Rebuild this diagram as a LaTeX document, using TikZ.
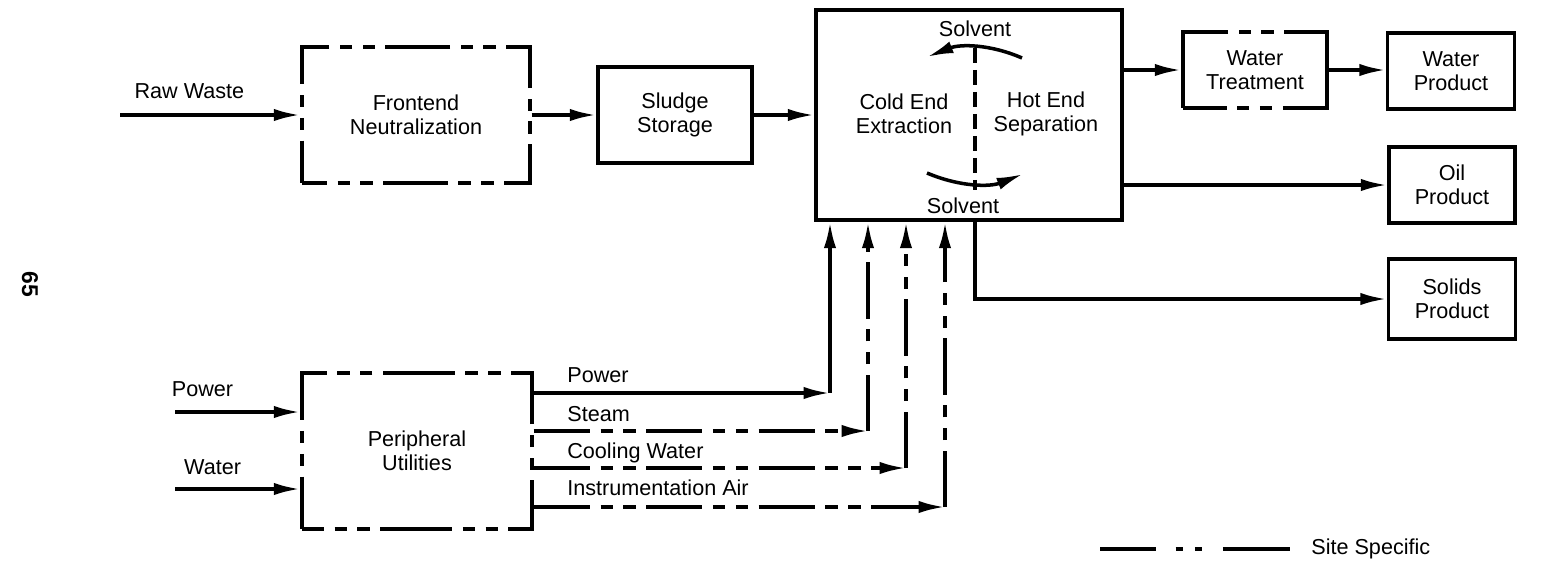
\documentclass[tikz,border=0pt]{standalone}
\usepackage{fontspec}
\setmainfont{Liberation Sans}
\usetikzlibrary{arrows.meta,calc}
\tikzstyle{scatola} = [rectangle, draw, line width=2pt, align=center, inner sep=0pt, font=\fontsize{12.3}{13.5}\selectfont]
\tikzstyle{sito} = [dash pattern=on 32pt off 6pt on 7pt off 6pt on 7pt off 6pt]
\tikzstyle{flusso} = [line width=2pt, -{Latex[length=15pt,width=7pt]}]
\tikzstyle{etichetta} = [inner sep=0pt, align=center, font=\fontsize{12.3}{13.5}\selectfont]

\begin{document}
\begin{tikzpicture}[x=0.02cm, y=-0.02cm]
\useasboundingbox (0,0) rectangle (1559,579);

% main line
\node (fn) [scatola, minimum width=4.56cm, minimum height=2.72cm, dash pattern=on 36.8pt off 6pt on 7pt off 6pt on 7pt off 6pt, dash phase=22.6pt] at (416,115) {Frontend\\Neutralization};
\node (ss) [scatola, minimum width=3.08cm, minimum height=1.92cm] at (675,115) {Sludge\\Storage};
\node (ce) [scatola, minimum width=6.12cm, minimum height=4.2cm] at (969,115) {};

\node (cold) [etichetta] at (904,114) {Cold End\\Extraction};
\node (hot) [etichetta] at (1046,114) {Hot End\\Separation};
\node (sv1) [etichetta] at (975,29) {Solvent};
\node (sv2) [etichetta] at (963,206) {Solvent};

\coordinate (dtop) at (975,48);
\coordinate (dbot) at (975,190);
\draw[line width=2pt, dash pattern=on 8.5pt off 4pt] (dtop) -- (dbot);

\coordinate (a1) at (1022,58);
\coordinate (a2) at (927,57);
\draw[flusso] (a1) .. controls (990,44) and (960,44) .. (a2);
\coordinate (b1) at (927,173);
\coordinate (b2) at (1023,174);
\draw[flusso] (b1) .. controls (960,187) and (990,187) .. (b2);

% products
\node (wt) [scatola, minimum width=2.88cm, minimum height=1.52cm, dash pattern=on 92.7pt off 6pt on 7pt off 6pt on 7pt off 6pt, dash phase=67.9pt] at (1255,70) {Water\\Treatment};
\node (wp) [scatola, minimum width=2.54cm, minimum height=1.52cm] at (1451,71) {Water\\Product};
\node (op) [scatola, minimum width=2.52cm, minimum height=1.52cm] at (1452,185) {Oil\\Product};
\node (sp) [scatola, minimum width=2.54cm, minimum height=1.6cm] at (1452,299) {Solids\\Product};

\coordinate (rw) at (120,115);
\draw[flusso] (rw) -- (fn.west) node[etichetta, pos=0.385, above=8pt] {Raw Waste};
\draw[flusso] (fn) -- (ss);
\draw[flusso] (ss) -- (ce);
\draw[flusso] (ce.east |- wt.west) -- (wt.west);
\draw[flusso] (wt.east) -- (wt.east -| wp.west);
\draw[flusso] (ce.east |- op.west) -- (op.west);
\draw[flusso] (dbot |- ce.south) |- (sp.west);

% utilities
\node (pu) [scatola, minimum width=4.6cm, minimum height=3.12cm, dash pattern=on 41pt off 6pt on 7pt off 6pt on 7pt off 6pt, dash phase=28.5pt] at (417,451) {Peripheral\\Utilities};

\coordinate (pwin) at (175,412);
\coordinate (wtin) at (175,489);
\draw[flusso] (pwin) -- (pwin -| pu.west) node[etichetta, pos=0.22, above=7.5pt] {Power};
\draw[flusso] (wtin) -- (wtin -| pu.west) node[etichetta, pos=0.3, above=7pt] {Water};

\coordinate (c1) at (830,393);
\coordinate (c2) at (868,431);
\coordinate (c3) at (906,468);
\coordinate (c4) at (945,507);

\draw[flusso] (pu.east |- c1) -- (c1);
\draw[flusso] (c1) -- (c1 |- ce.south);
\draw[flusso, sito] (pu.east |- c2) -- (c2);
\draw[flusso, sito] (c2) -- (c2 |- ce.south);
\draw[flusso, sito] (pu.east |- c3) -- (c3);
\draw[flusso, sito] (c3) -- (c3 |- ce.south);
\draw[flusso, sito] (pu.east |- c4) -- (c4);
\draw[flusso, sito] (c4) -- (c4 |- ce.south);

\node (lpower) [etichetta, anchor=base west] at (567,382) {Power};
\node (lsteam) [etichetta, anchor=base west] at (567,421) {Steam};
\node (lcool) [etichetta, anchor=base west] at (567,458) {Cooling Water};
\node (lair) [etichetta, anchor=base west] at (567,495) {Instrumentation Air};

% legend
\coordinate (lg1) at (1100,549);
\coordinate (lg2) at (1290,549);
\draw[line width=2pt, dash pattern=on 32pt off 11pt on 4pt off 7pt on 4pt off 12pt on 40pt] (lg1) -- (lg2);
\node (lgtext) [etichetta, anchor=west] at (1311,549) {Site Specific};

\node (pag) [etichetta, rotate=-90, font=\fontsize{13}{13}\selectfont\bfseries] at (30,284) {65};

\end{tikzpicture}
\end{document}
